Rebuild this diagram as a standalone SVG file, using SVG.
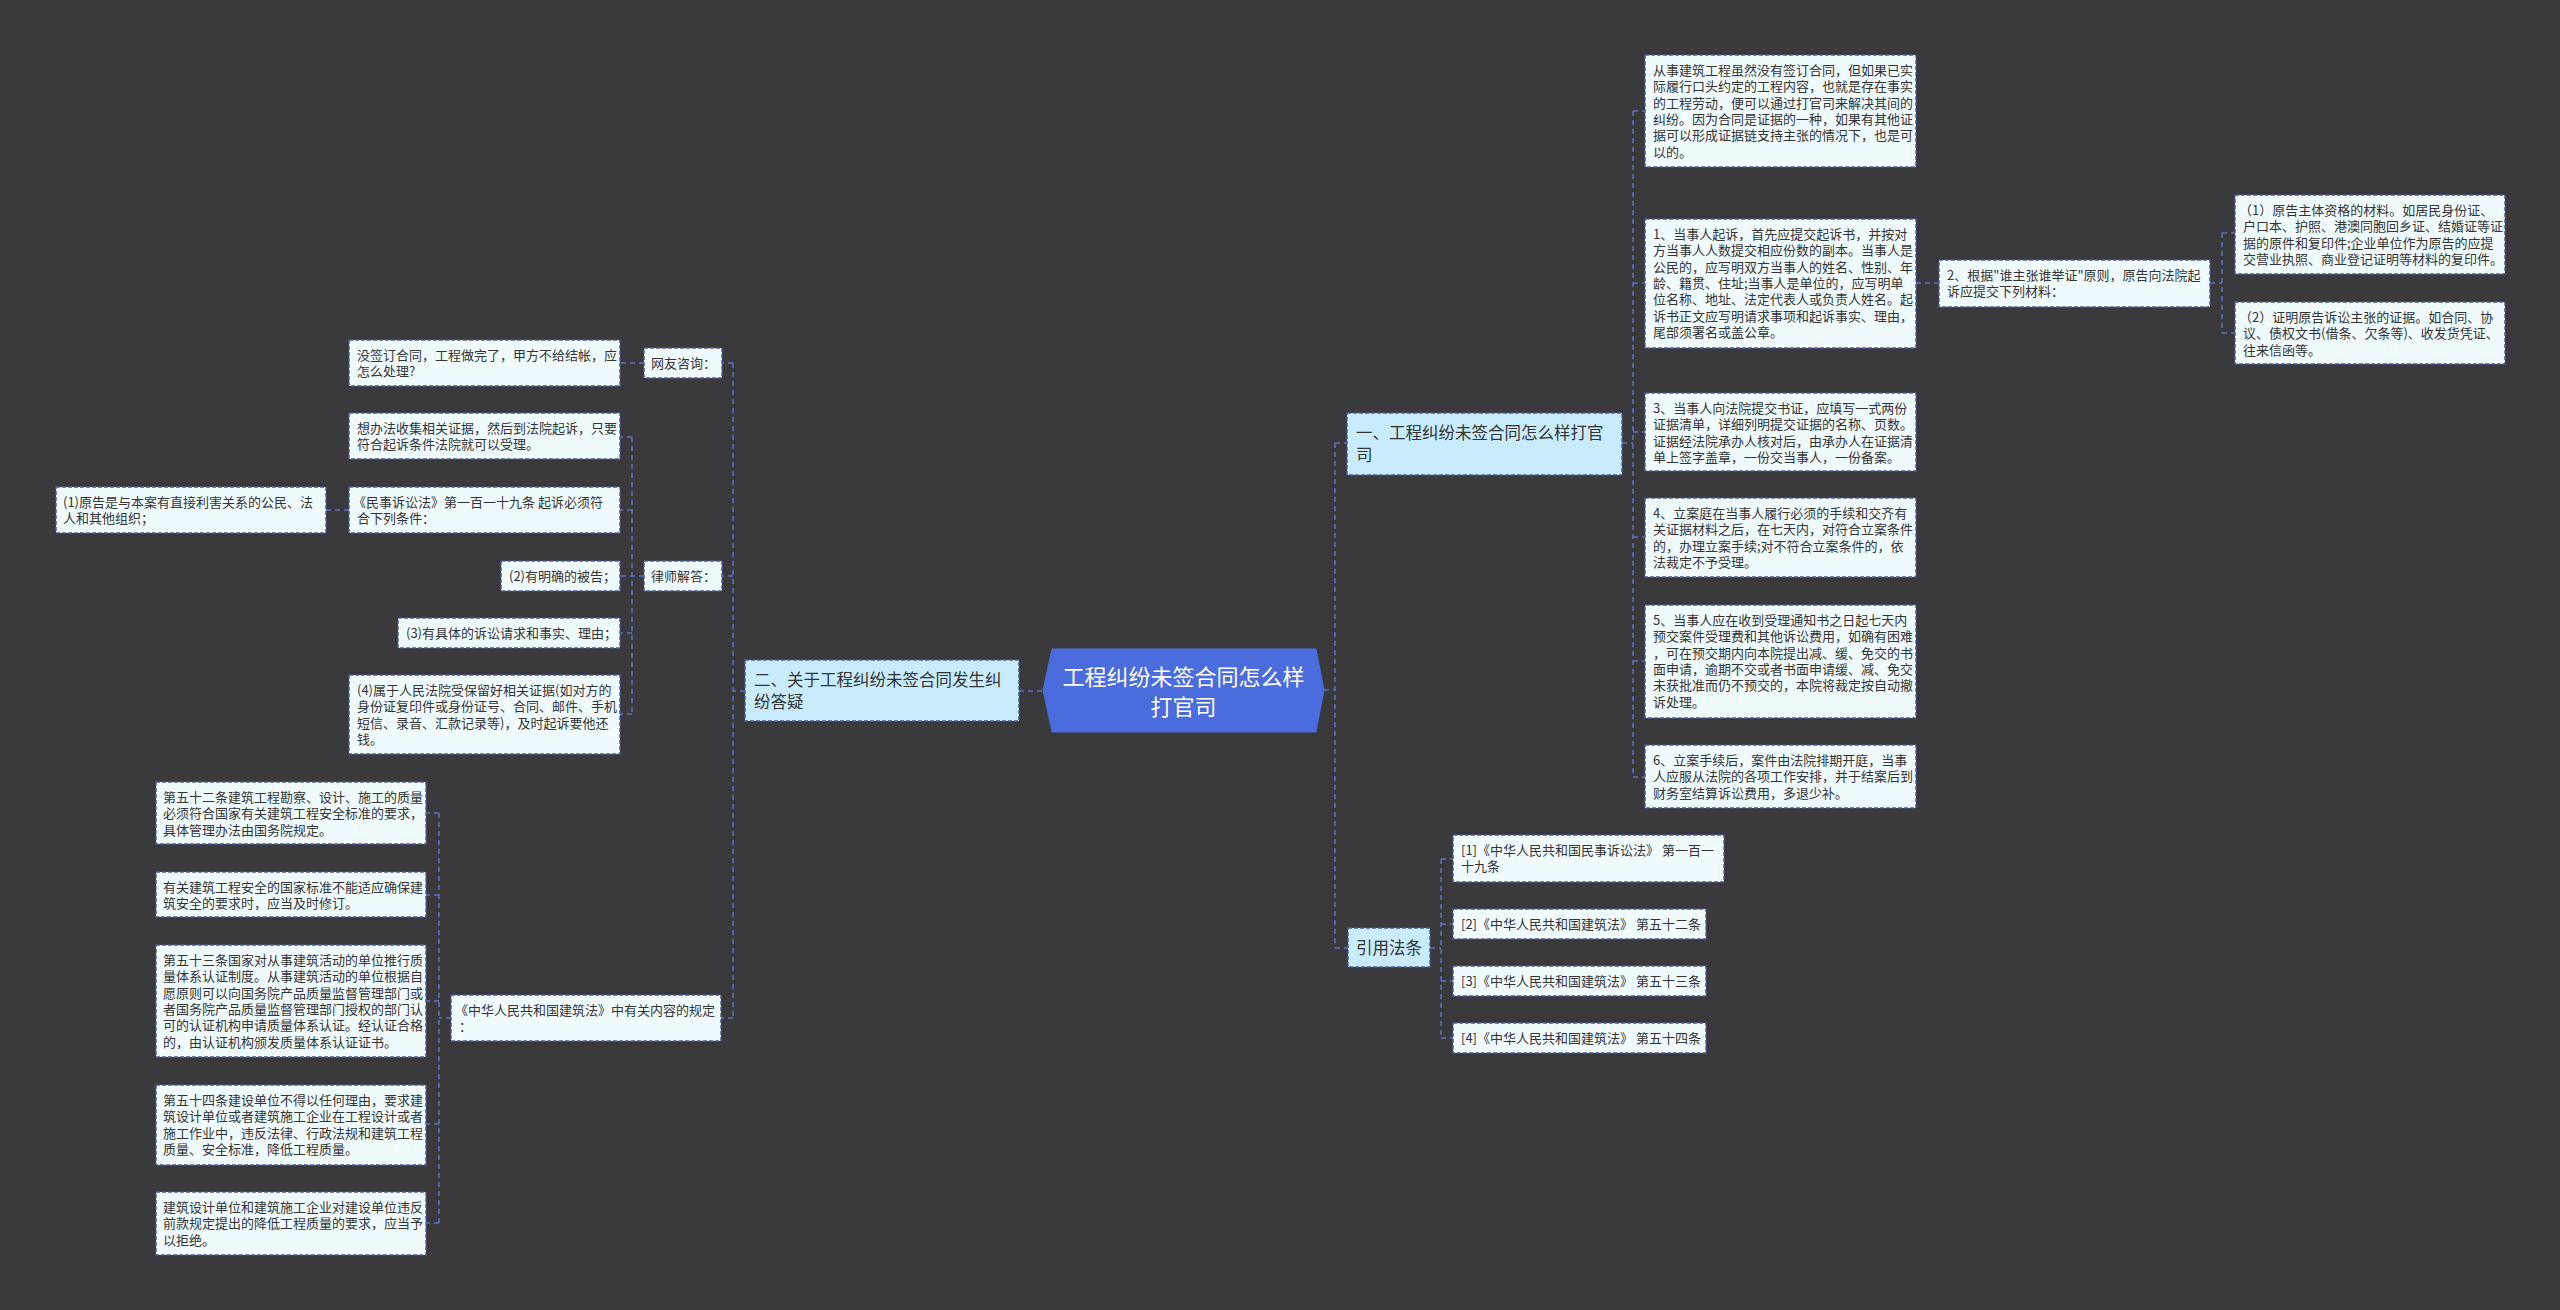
<svg xmlns="http://www.w3.org/2000/svg" width="2560" height="1310" viewBox="0 0 2560 1310">
<style>
.bg{fill:#3a393b}
.leaf rect{fill:#f0fbff;stroke:#4b5896;stroke-width:1.5;stroke-dasharray:4 2}
.branch rect{fill:#c8ecfc;stroke:#4b5896;stroke-width:1.5;stroke-dasharray:4 2}
.t{font-family:"Noto Sans CJK SC","Noto Sans",sans-serif;font-size:13px;fill:#333}
.bt{font-family:"Noto Sans CJK SC","Noto Sans",sans-serif;font-size:16.5px;fill:#333}
.rt{font-family:"Noto Sans CJK SC","Noto Sans",sans-serif;font-size:22px;fill:#fff;text-anchor:middle}
.conn path{fill:none;stroke:#5b73c6;stroke-width:1.5;stroke-dasharray:5 4}
</style>
<rect class="bg" x="0" y="0" width="2560" height="1310"/>
<g id="connectors" class="conn">
<path d="M1324 690H1335M1335 443V948M1335 443H1347M1335 948H1348"/>
<path d="M1622 443H1633M1633 111V777M1633 111H1645M1633 283H1645M1633 432H1645M1633 537H1645M1633 661H1645M1633 777H1645"/>
<path d="M1916 283H1939"/>
<path d="M2210 283H2222M2222 233V333M2222 233H2235M2222 333H2235"/>
<path d="M1430 948H1441M1441 859V1038M1441 859H1453M1441 924H1453M1441 981H1453M1441 1038H1453"/>
<path d="M1019 691H1043"/>
<path d="M745 691H733M733 363V1018M733 363H722M733 576H722M733 1018H721"/>
<path d="M644 363H620"/>
<path d="M644 576H620M632 437V714M632 437H620M632 510H620M632 633H620M632 714H620"/>
<path d="M349 510H326"/>
<path d="M451 1018H439M439 813V1223M439 813H426M439 895H426M439 1001H426M439 1124H426M439 1223H426"/>
</g>
<g id="root">
<polygon points="1043,690 1052,649 1316,649 1324,690 1316,732 1052,732" fill="#4a6cdd" stroke="#4a6cdd"/>
<text class="rt" x="1183.5" y="685">工程纠纷未签合同怎么样<tspan x="1183.5" dy="30">打官司</tspan></text>
</g>
<g id="b1" class="branch"><rect x="1347" y="413" width="275" height="62"/><text class="bt" x="1356" y="439">一、工程纠纷未签合同怎么样打官<tspan x="1356" dy="22">司</tspan></text></g>
<g id="b2" class="branch"><rect x="745" y="660" width="274" height="61"/><text class="bt" x="754" y="686">二、关于工程纠纷未签合同发生纠<tspan x="754" dy="22">纷答疑</tspan></text></g>
<g id="b3" class="branch"><rect x="1348" y="928" width="82" height="39"/><text class="bt" x="1356" y="954">引用法条</text></g>
<g id="r1" class="leaf"><rect x="1645" y="55" width="271" height="112"/><text class="t" x="1653" y="75">从事建筑工程虽然没有签订合同，但如果已实<tspan x="1653" dy="16.3">际履行口头约定的工程内容，也就是存在事实</tspan><tspan x="1653" dy="16.3">的工程劳动，便可以通过打官司来解决其间的</tspan><tspan x="1653" dy="16.3">纠纷。因为合同是证据的一种，如果有其他证</tspan><tspan x="1653" dy="16.3">据可以形成证据链支持主张的情况下，也是可</tspan><tspan x="1653" dy="16.3">以的。</tspan></text></g>
<g id="r2" class="leaf"><rect x="1645" y="219" width="271" height="129"/><text class="t" x="1653" y="239">1、当事人起诉，首先应提交起诉书，并按对<tspan x="1653" dy="16.3">方当事人人数提交相应份数的副本。当事人是</tspan><tspan x="1653" dy="16.3">公民的，应写明双方当事人的姓名、性别、年</tspan><tspan x="1653" dy="16.3">龄、籍贯、住址;当事人是单位的，应写明单</tspan><tspan x="1653" dy="16.3">位名称、地址、法定代表人或负责人姓名。起</tspan><tspan x="1653" dy="16.3">诉书正文应写明请求事项和起诉事实、理由，</tspan><tspan x="1653" dy="16.3">尾部须署名或盖公章。</tspan></text></g>
<g id="r2a" class="leaf"><rect x="1939" y="260" width="271" height="47"/><text class="t" x="1947" y="280">2、根据"谁主张谁举证"原则，原告向法院起<tspan x="1947" dy="16.3">诉应提交下列材料：</tspan></text></g>
<g id="r2a1" class="leaf"><rect x="2235" y="195" width="270" height="79"/><text class="t" x="2239" y="215">（1）原告主体资格的材料。如居民身份证、<tspan x="2243" dy="16.3">户口本、护照、港澳同胞回乡证、结婚证等证</tspan><tspan x="2243" dy="16.3">据的原件和复印件;企业单位作为原告的应提</tspan><tspan x="2243" dy="16.3">交营业执照、商业登记证明等材料的复印件。</tspan></text></g>
<g id="r2a2" class="leaf"><rect x="2235" y="302" width="270" height="62"/><text class="t" x="2239" y="322">（2）证明原告诉讼主张的证据。如合同、协<tspan x="2243" dy="16.3">议、债权文书(借条、欠条等)、收发货凭证、</tspan><tspan x="2243" dy="16.3">往来信函等。</tspan></text></g>
<g id="r3" class="leaf"><rect x="1645" y="393" width="271" height="78"/><text class="t" x="1653" y="413">3、当事人向法院提交书证，应填写一式两份<tspan x="1653" dy="16.3">证据清单，详细列明提交证据的名称、页数。</tspan><tspan x="1653" dy="16.3">证据经法院承办人核对后，由承办人在证据清</tspan><tspan x="1653" dy="16.3">单上签字盖章，一份交当事人，一份备案。</tspan></text></g>
<g id="r4" class="leaf"><rect x="1645" y="498" width="271" height="79"/><text class="t" x="1653" y="518">4、立案庭在当事人履行必须的手续和交齐有<tspan x="1653" dy="16.3">关证据材料之后，在七天内，对符合立案条件</tspan><tspan x="1653" dy="16.3">的，办理立案手续;对不符合立案条件的，依</tspan><tspan x="1653" dy="16.3">法裁定不予受理。</tspan></text></g>
<g id="r5" class="leaf"><rect x="1645" y="605" width="271" height="113"/><text class="t" x="1653" y="625">5、当事人应在收到受理通知书之日起七天内<tspan x="1653" dy="16.3">预交案件受理费和其他诉讼费用，如确有困难</tspan><tspan x="1653" dy="16.3">，可在预交期内向本院提出减、缓、免交的书</tspan><tspan x="1653" dy="16.3">面申请，逾期不交或者书面申请缓、减、免交</tspan><tspan x="1653" dy="16.3">未获批准而仍不预交的，本院将裁定按自动撤</tspan><tspan x="1653" dy="16.3">诉处理。</tspan></text></g>
<g id="r6" class="leaf"><rect x="1645" y="745" width="271" height="63"/><text class="t" x="1653" y="765">6、立案手续后，案件由法院排期开庭，当事<tspan x="1653" dy="16.3">人应服从法院的各项工作安排，并于结案后到</tspan><tspan x="1653" dy="16.3">财务室结算诉讼费用，多退少补。</tspan></text></g>
<g id="c1" class="leaf"><rect x="1453" y="835" width="271" height="47"/><text class="t" x="1461" y="855">[1]《中华人民共和国民事诉讼法》 第一百一<tspan x="1461" dy="16.3">十九条</tspan></text></g>
<g id="c2" class="leaf"><rect x="1453" y="909" width="253" height="30"/><text class="t" x="1461" y="929">[2]《中华人民共和国建筑法》 第五十二条</text></g>
<g id="c3" class="leaf"><rect x="1453" y="966" width="253" height="30"/><text class="t" x="1461" y="986">[3]《中华人民共和国建筑法》 第五十三条</text></g>
<g id="c4" class="leaf"><rect x="1453" y="1023" width="253" height="30"/><text class="t" x="1461" y="1043">[4]《中华人民共和国建筑法》 第五十四条</text></g>
<g id="l_ask" class="leaf"><rect x="644" y="348" width="78" height="30"/><text class="t" x="651" y="368">网友咨询：</text></g>
<g id="l_q" class="leaf"><rect x="349" y="340" width="271" height="46"/><text class="t" x="357" y="360">没签订合同，工程做完了，甲方不给结帐，应<tspan x="357" dy="16.3">怎么处理?</tspan></text></g>
<g id="l_ans" class="leaf"><rect x="644" y="561" width="78" height="30"/><text class="t" x="651" y="581">律师解答：</text></g>
<g id="l_a1" class="leaf"><rect x="349" y="413" width="271" height="46"/><text class="t" x="357" y="433">想办法收集相关证据，然后到法院起诉，只要<tspan x="357" dy="16.3">符合起诉条件法院就可以受理。</tspan></text></g>
<g id="l_a2" class="leaf"><rect x="349" y="487" width="271" height="46"/><text class="t" x="353" y="507">《民事诉讼法》第一百一十九条 起诉必须符<tspan x="357" dy="16.3">合下列条件：</tspan></text></g>
<g id="l_a2a" class="leaf"><rect x="56" y="487" width="270" height="46"/><text class="t" x="63" y="507">(1)原告是与本案有直接利害关系的公民、法<tspan x="63" dy="16.3">人和其他组织；</tspan></text></g>
<g id="l_a3" class="leaf"><rect x="501" y="561" width="119" height="30"/><text class="t" x="509" y="581">(2)有明确的被告；</text></g>
<g id="l_a4" class="leaf"><rect x="398" y="618" width="222" height="30"/><text class="t" x="406" y="638">(3)有具体的诉讼请求和事实、理由；</text></g>
<g id="l_a5" class="leaf"><rect x="349" y="675" width="271" height="79"/><text class="t" x="357" y="695">(4)属于人民法院受保留好相关证据(如对方的<tspan x="357" dy="16.3">身份证复印件或身份证号、合同、邮件、手机</tspan><tspan x="357" dy="16.3">短信、录音、汇款记录等)，及时起诉要他还</tspan><tspan x="357" dy="16.3">钱。</tspan></text></g>
<g id="l_law" class="leaf"><rect x="451" y="995" width="270" height="46"/><text class="t" x="455" y="1015">《中华人民共和国建筑法》中有关内容的规定<tspan x="459" dy="16.3">：</tspan></text></g>
<g id="l_52" class="leaf"><rect x="156" y="782" width="270" height="62"/><text class="t" x="163" y="802">第五十二条建筑工程勘察、设计、施工的质量<tspan x="163" dy="16.3">必须符合国家有关建筑工程安全标准的要求，</tspan><tspan x="163" dy="16.3">具体管理办法由国务院规定。</tspan></text></g>
<g id="l_52b" class="leaf"><rect x="156" y="872" width="270" height="45"/><text class="t" x="163" y="892">有关建筑工程安全的国家标准不能适应确保建<tspan x="163" dy="16.3">筑安全的要求时，应当及时修订。</tspan></text></g>
<g id="l_53" class="leaf"><rect x="156" y="945" width="270" height="112"/><text class="t" x="163" y="965">第五十三条国家对从事建筑活动的单位推行质<tspan x="163" dy="16.3">量体系认证制度。从事建筑活动的单位根据自</tspan><tspan x="163" dy="16.3">愿原则可以向国务院产品质量监督管理部门或</tspan><tspan x="163" dy="16.3">者国务院产品质量监督管理部门授权的部门认</tspan><tspan x="163" dy="16.3">可的认证机构申请质量体系认证。经认证合格</tspan><tspan x="163" dy="16.3">的，由认证机构颁发质量体系认证证书。</tspan></text></g>
<g id="l_54" class="leaf"><rect x="156" y="1085" width="270" height="80"/><text class="t" x="163" y="1105">第五十四条建设单位不得以任何理由，要求建<tspan x="163" dy="16.3">筑设计单位或者建筑施工企业在工程设计或者</tspan><tspan x="163" dy="16.3">施工作业中，违反法律、行政法规和建筑工程</tspan><tspan x="163" dy="16.3">质量、安全标准，降低工程质量。</tspan></text></g>
<g id="l_54b" class="leaf"><rect x="156" y="1192" width="270" height="63"/><text class="t" x="163" y="1212">建筑设计单位和建筑施工企业对建设单位违反<tspan x="163" dy="16.3">前款规定提出的降低工程质量的要求，应当予</tspan><tspan x="163" dy="16.3">以拒绝。</tspan></text></g>
</svg>
